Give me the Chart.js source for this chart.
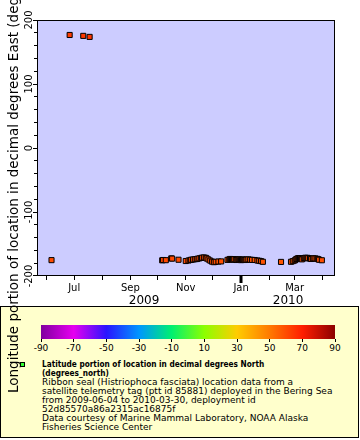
<!DOCTYPE html>
<html><head><meta charset="utf-8">
<script src="https://cdn.jsdelivr.net/npm/chart.js@4.4.0/dist/chart.umd.min.js"></script>
<style>
html,body{margin:0;padding:0;background:#fff;}
#wrap{position:relative;width:360px;height:440px;overflow:hidden;font-family:"DejaVu Sans";color:#000;}
#c{position:absolute;left:0;top:0;z-index:2;}
.lg{position:absolute;z-index:1;}
#legend{left:0;top:306px;width:357px;height:130px;border:1px solid #000;background:#ffffcc;}
#cbar{left:41px;top:325px;width:294px;height:14px;}
.ct{width:1px;height:3px;background:#000;top:339px;}
.cl{top:343px;font-size:9px;line-height:10px;white-space:nowrap;transform:translateX(-50%);}
#sym{left:20px;top:362px;width:3px;height:3px;border:1px solid #000;background:#33ff33;}
.tl{left:42px;font-size:9px;line-height:9px;white-space:nowrap;}
.b{font-weight:bold;transform:scaleX(0.82);transform-origin:0 50%;}
</style>
</head><body>
<div id="wrap">
<div class="lg" id="legend"></div>
<div class="lg" id="cbar"></div>
<div class="lg" id="sym"></div>
<canvas id="c" width="360" height="440"></canvas>
</div>
<script>
// ---- data ----
const dates = [
'2009-06-06','2009-06-26','2009-07-11','2009-07-18',
'2009-10-06','2009-10-07','2009-10-10','2009-10-16','2009-10-17','2009-10-24','2009-11-01',
'2009-11-04','2009-11-06','2009-11-07','2009-11-09','2009-11-11','2009-11-13','2009-11-14','2009-11-16','2009-11-18','2009-11-19',
'2009-11-21','2009-11-23','2009-11-24','2009-11-26','2009-11-28','2009-11-30','2009-12-02','2009-12-04','2009-12-07','2009-12-10',
'2009-12-17','2009-12-19','2009-12-20','2009-12-21','2009-12-22','2009-12-23','2009-12-24','2009-12-26','2009-12-27','2009-12-28','2009-12-29','2009-12-30','2009-12-31',
'2010-01-01','2010-01-02','2010-01-03','2010-01-04','2010-01-05','2010-01-06','2010-01-07','2010-01-09','2010-01-11','2010-01-13','2010-01-16','2010-01-19','2010-01-21','2010-01-23','2010-01-25',
'2010-02-14',
'2010-02-25','2010-02-27','2010-03-01','2010-03-02','2010-03-03','2010-03-04','2010-03-05','2010-03-06','2010-03-07','2010-03-08','2010-03-09',
'2010-03-11','2010-03-12','2010-03-13','2010-03-14','2010-03-15','2010-03-16','2010-03-18','2010-03-19','2010-03-21','2010-03-22','2010-03-24','2010-03-26','2010-03-27','2010-03-28','2010-03-31'
];
const longitudes = [
-175.2, 176.6, 175.2, 173.6,
-175.5,-175.0,-175.3,-172.5,-172.8,-174.6,-176.6,
-175.8,-175.0,-174.6,-174.2,-173.8,-173.5,-173.0,-172.4,-171.8,-171.4,
-171.0,-171.6,-172.6,-174.2,-176.0,-177.6,-178.4,-177.8,-177.4,-177.2,
-174.8,-174.0,-173.4,-173.8,-174.4,-174.2,-173.8,-174.4,-175.0,-174.6,-174.0,-174.2,-174.8,
-175.2,-174.8,-174.2,-174.4,-175.0,-174.8,-174.4,-174.0,-174.6,-174.8,-175.0,-175.8,-176.2,-176.8,-177.8,
-178.0,
-177.8,-176.8,-175.8,-174.6,-173.4,-172.8,-172.2,-172.0,-172.6,-173.4,-174.0,
-172.4,-171.8,-171.6,-172.0,-171.6,-172.2,-172.8,-173.4,-172.8,-172.4,-172.6,-173.2,-173.8,-174.6,-175.4
];
const latitudes = [
60.1, 63.5, 64.2, 64.8,
61.5,61.4,61.2,61.0,61.0,60.8,60.6,
60.5,60.4,60.4,60.3,60.2,60.2,60.1,60.0,60.0,59.9,
59.9,59.8,59.8,59.7,59.6,59.6,59.5,59.5,59.4,59.4,
59.3,59.3,59.2,59.2,59.2,59.1,59.1,59.0,59.0,59.0,58.9,58.9,58.9,
58.8,58.8,58.8,58.7,58.7,58.7,58.6,58.6,58.6,58.5,58.5,58.5,58.4,58.4,58.4,
58.3,
58.3,58.3,58.4,58.4,58.5,58.5,58.6,58.6,58.7,58.7,58.8,
58.8,58.9,58.9,59.0,59.0,59.1,59.1,59.2,59.2,59.3,59.3,59.4,59.4,59.5,59.5
];
const monthNames = ['Jan','Feb','Mar','Apr','May','Jun','Jul','Aug','Sep','Oct','Nov','Dec'];
const yearLabels = ['2009','2010'];
const yTickLabels = [-200,-100,0,100,200];
const paletteValues = [-90,-70,-50,-30,-10,10,30,50,70,90];
const paletteColors = ['#80009f','#e600f0','#2a14ff','#0096ff','#00f070','#8cff00','#ffcc00','#ff7a00','#ff1e00','#8c0000'];
const xMin = Date.UTC(2009,4,21), xMax = Date.UTC(2010,3,14,12);
const yTitle = 'Longitude portion of location in decimal degrees East (degrees_east)';
const legendBold = ['Latitude portion of location in decimal degrees North','(degrees_north)'];
const legendLines = ['Ribbon seal (Histriophoca fasciata) location data from a',
 'satellite telemetry tag (ptt id 85881) deployed in the Bering Sea',
 'from 2009-06-04 to 2010-03-30, deployment id',
 '52d85570a86a2315ac16875f',
 'Data courtesy of Marine Mammal Laboratory, NOAA Alaska',
 'Fisheries Science Center'];

// ---- helpers ----
function hex(c){return [parseInt(c.slice(1,3),16),parseInt(c.slice(3,5),16),parseInt(c.slice(5,7),16)];}
function latColor(v){
  if(v<=paletteValues[0]) return paletteColors[0];
  for(let i=1;i<paletteValues.length;i++){
    if(v<=paletteValues[i]){
      const t=(v-paletteValues[i-1])/(paletteValues[i]-paletteValues[i-1]);
      const a=hex(paletteColors[i-1]), b=hex(paletteColors[i]);
      return 'rgb('+a.map((x,k)=>Math.round(x+(b[k]-x)*t)).join(',')+')';
    }
  }
  return paletteColors[paletteColors.length-1];
}
const monthTicks=[];
for(let y=2009,m=0;;m++){const t=Date.UTC(y,m,1); if(t>xMax) break; if(t>=xMin) monthTicks.push(t);}

// ---- legend (HTML) ----
const wrap=document.getElementById('wrap');
const cv=document.getElementById('c');
document.getElementById('cbar').style.background='linear-gradient(to right,'+paletteColors.map((c,i)=>c+' '+((paletteValues[i]+90)/180*100).toFixed(2)+'%').join(',')+')';
paletteValues.forEach(v=>{
  const x=41+(v+90)/180*294;
  const t=document.createElement('div'); t.className='lg ct'; t.style.left=Math.round(x-0.5)+'px'; wrap.insertBefore(t,cv);
  const l=document.createElement('div'); l.className='lg cl'; l.style.left=x+'px'; l.textContent=String(v); wrap.insertBefore(l,cv);
});
legendBold.concat(legendLines).forEach((s,i)=>{
  const d=document.createElement('div'); d.className='lg tl'+(i<legendBold.length?' b':''); d.style.top=(359.5+9*i)+'px'; d.textContent=s;
  wrap.insertBefore(d,cv);
});

// ---- chart ----
const points=dates.map((d,i)=>({x:Date.parse(d+'T00:00:00Z'),y:longitudes[i]}));
const frame={
  id:'frame',
  beforeDatasetsDraw(ch){const a=ch.chartArea,c=ch.ctx;c.save();c.fillStyle='#ccccff';c.fillRect(a.left,a.top,a.right-a.left,a.bottom-a.top);c.restore();},
  afterDraw(ch){
    const a=ch.chartArea,c=ch.ctx,ys=ch.scales.y,xs=ch.scales.x;
    c.save();
    c.strokeStyle='#000';c.lineWidth=1;
    c.strokeRect(a.left+0.5,a.top+0.5,a.right-a.left-1,a.bottom-a.top-1);
    c.fillStyle='#000';
    // y tick marks from the scale's ticks
    ys.ticks.forEach(t=>{const p=Math.round(ys.getPixelForValue(t.value)-0.5);const L=(t.value%100===0)?4:3;c.fillRect(a.left-L,Math.min(Math.max(p,a.top),a.bottom-1),L,1);});
    c.font='10px "DejaVu Sans"';c.textAlign='center';c.textBaseline='middle';
    yTickLabels.forEach(v=>{const p=ys.getPixelForValue(v);c.save();c.translate(28.5,p);c.rotate(-Math.PI/2);c.fillText(String(v),0,0.5);c.restore();});
    c.font='13.5px "DejaVu Sans"';c.textBaseline='alphabetic';c.textAlign='left';
    c.save();c.translate(17.5,393);c.rotate(-Math.PI/2);c.fillText(yTitle,0,0);c.restore();
    c.textAlign='center';
    // year boundary tick
    const j=xs.getPixelForValue(Date.UTC(2010,0,1));
    c.fillRect(Math.round(j)-1.5,a.bottom,3,7);
    // year labels
    c.font='12px "DejaVu Sans"';
    const x0=xs.getPixelForValue(monthTicks[0]);
    c.textBaseline='middle';
    c.fillText(yearLabels[0],(x0+j)/2,301);
    c.fillText(yearLabels[1],(j+a.right)/2,301);
    c.restore();
  }
};
new Chart(cv,{
  type:'scatter',
  data:{datasets:[{data:points,pointStyle:'rect',pointRadius:3.6,pointHoverRadius:3.6,
    backgroundColor:latitudes.map(latColor),borderColor:'#000',borderWidth:1}]},
  options:{
    responsive:false,animation:false,devicePixelRatio:1,
    plugins:{legend:{display:false},tooltip:{enabled:false}},
    layout:{padding:{left:0,top:20,right:25,bottom:134}},
    scales:{
      x:{type:'linear',min:xMin,max:xMax,
        afterFit(s){s.height=30;},
        afterBuildTicks(s){s.ticks=monthTicks.map(v=>({value:v}));},
        ticks:{autoSkip:false,maxRotation:0,minRotation:0,padding:2,color:'#000',font:{family:'DejaVu Sans',size:10},
          callback(v){const m=new Date(v).getUTCMonth();return m%2===0?monthNames[m]:'';}},
        grid:{drawOnChartArea:false,drawTicks:true,tickLength:4,color:'#000',lineWidth:1},
        border:{display:false}},
      y:{min:-200,max:200,
        afterFit(s){s.width=37;},
        ticks:{stepSize:20,autoSkip:false,callback(){return '';}},
        grid:{display:false},
        border:{display:false}}
    }
  },
  plugins:[frame]
});
</script>
</body></html>
